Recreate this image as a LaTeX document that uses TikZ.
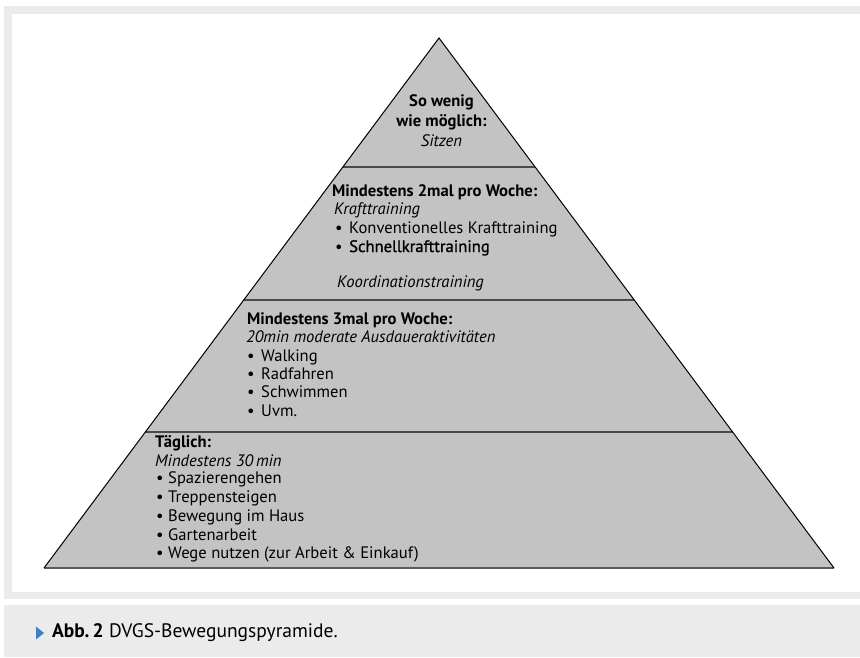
\documentclass[tikz,border=0pt]{standalone}
\usepackage{fontspec}
\setmainfont{PT Sans}
\newfontface\medfont[FakeBold=1.2]{PT Sans}
\usetikzlibrary{calc}
\definecolor{framegray}{HTML}{EBEBEB}
\definecolor{pyrfill}{HTML}{C3C3C3}
\definecolor{divline}{HTML}{4A4A4A}
\definecolor{baseclr}{HTML}{5A5A5A}
\definecolor{capblue}{HTML}{3A80C4}
\begin{document}
\begin{tikzpicture}[x=1pt,y=-1pt,
  txt/.style={inner sep=0pt, anchor=west, text height=12pt, text depth=4pt, font=\fontsize{16.6}{19}\selectfont},
  hdr/.style={txt, font=\fontsize{16.6}{19}\selectfont\bfseries},
  itl/.style={txt, font=\fontsize{16.6}{19}\selectfont\itshape},
  ctr/.style={anchor=center},
  bul/.style={txt},
  captext/.style={inner sep=0pt, anchor=west, text height=13pt, text depth=4pt, font=\fontsize{19.5}{22}\selectfont},
  divider/.style={draw=divline, line width=1.6pt},
  pyredge/.style={draw=black, line width=1pt, line join=miter}
]
\useasboundingbox (0,0) rectangle (860,657);
\fill[white] (0,0) rectangle (860,657);
% frame and caption band
\fill[framegray] (4,6) rectangle (860,599);
\fill[white] (12,14) rectangle (860,592);
\fill[framegray] (4,605) rectangle (860,657);

% pyramid
\coordinate (apex) at (439,38);
\coordinate (bl) at (44,568);
\coordinate (br) at (834,568);
\fill[pyrfill] (apex) -- (bl) -- (br) -- cycle;
\coordinate (d1l) at ($(apex)!0.2434!(bl)$);
\coordinate (d1r) at ($(apex)!0.2434!(br)$);
\coordinate (d2l) at ($(apex)!0.4943!(bl)$);
\coordinate (d2r) at ($(apex)!0.4943!(br)$);
\coordinate (d3l) at ($(apex)!0.7434!(bl)$);
\coordinate (d3r) at ($(apex)!0.7434!(br)$);
\draw[divider] (d1l) -- (d1r);
\draw[divider] (d2l) -- (d2r);
\draw[divider] (d3l) -- (d3r);
\draw[draw=baseclr, line width=1.2pt] (bl) -- (br);
\draw[pyredge] (bl) -- (apex) -- (br);

% tier 1
\node[hdr, ctr] (t1a) at (441.5,102) {So wenig};
\node[hdr, ctr] (t1b) at (441.5,122) {wie möglich:};
\node[itl, ctr] (t1c) at (441.5,142) {Sitzen};

% tier 2
\node[hdr] (t2h) at (332,192) {Mindestens 2mal pro Woche:};
\node[itl] (t2i) at (334,210) {Krafttraining};
\node[bul] (t2b1) at (335,229) {\textbullet};
\node[txt] (t2l1) at (349,229) {Konventionelles Krafttraining};
\node[bul] (t2b2) at (335,248) {\textbullet};
\node[txt] (t2l2) at (349,248) {\medfont Schnellkrafttraining};
\node[itl] (t2k) at (337,283) {Koordinationstraining};

% tier 3
\node[hdr] (t3h) at (247,320) {Mindestens 3mal pro Woche:};
\node[itl] (t3i) at (246,338) {20min moderate Ausdaueraktivitäten};
\node[bul] (t3b1) at (247,357) {\textbullet};
\node[txt] (t3l1) at (261,357) {Walking};
\node[bul] (t3b2) at (247,375) {\textbullet};
\node[txt] (t3l2) at (261,375) {Radfahren};
\node[bul] (t3b3) at (247,393) {\textbullet};
\node[txt] (t3l3) at (261,393) {Schwimmen};
\node[bul] (t3b4) at (247,412) {\textbullet};
\node[txt] (t3l4) at (261,412) {Uvm.};

% tier 4
\node[hdr] (t4h) at (155,443) {Täglich:};
\node[itl] (t4i) at (155,462) {Mindestens 30\,min};
\node[bul] (t4b1) at (156,479) {\textbullet};
\node[txt] (t4l1) at (168,479) {Spazierengehen};
\node[bul] (t4b2) at (156,498) {\textbullet};
\node[txt] (t4l2) at (168,498) {Treppensteigen};
\node[bul] (t4b3) at (156,517) {\textbullet};
\node[txt] (t4l3) at (168,517) {Bewegung im Haus};
\node[bul] (t4b4) at (156,536) {\textbullet};
\node[txt] (t4l4) at (168,536) {Gartenarbeit};
\node[bul] (t4b5) at (156,554) {\textbullet};
\node[txt] (t4l5) at (168,554) {Wege nutzen (zur Arbeit \& Einkauf)};

% caption
\fill[capblue] (36,626.5) -- (44,633) -- (36,639.5) -- cycle;
\node[captext] (capa) at (52,633) {\textbf{Abb.\,2} DVGS-Bewegungspyramide.};
\end{tikzpicture}
\end{document}
